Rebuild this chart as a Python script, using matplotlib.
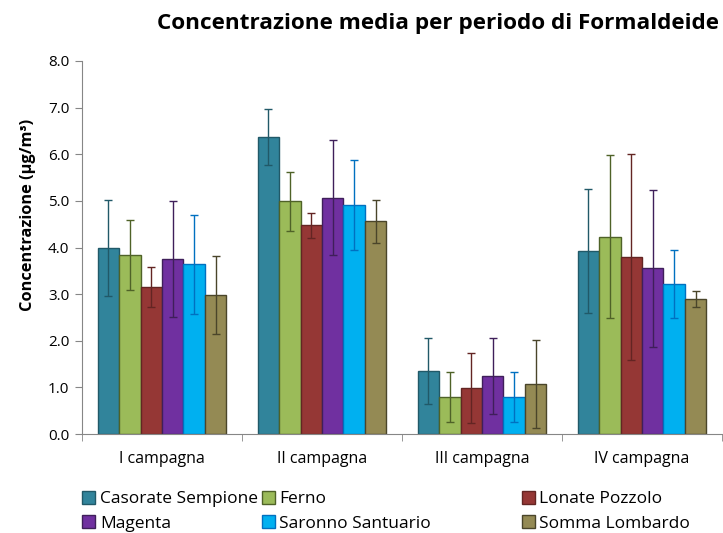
import matplotlib
matplotlib.use("Agg")
import matplotlib.pyplot as plt
import matplotlib.patches as mpatches
import numpy as np

plt.rcParams['font.family'] = ['Open Sans', 'DejaVu Sans']

campagne = ['I campagna', 'II campagna', 'III campagna', 'IV campagna']
siti = ['Casorate Sempione', 'Ferno', 'Lonate Pozzolo',
        'Magenta', 'Saronno Santuario', 'Somma Lombardo']

casorate = [3.98, 6.36, 1.35, 3.92]
ferno = [3.83, 4.99, 0.79, 4.23]
lonate = [3.15, 4.48, 0.99, 3.80]
magenta = [3.75, 5.07, 1.24, 3.55]
saronno = [3.64, 4.91, 0.79, 3.21]
somma = [2.98, 4.56, 1.07, 2.89]

err_casorate = [1.03, 0.60, 0.70, 1.33]
err_ferno = [0.75, 0.63, 0.54, 1.75]
err_lonate = [0.43, 0.27, 0.75, 2.21]
err_magenta = [1.24, 1.24, 0.81, 1.68]
err_saronno = [1.06, 0.96, 0.53, 0.73]
err_somma = [0.84, 0.46, 0.94, 0.17]

valori = [casorate, ferno, lonate, magenta, saronno, somma]
errori = [err_casorate, err_ferno, err_lonate, err_magenta, err_saronno, err_somma]
colori = ['#31849B', '#9BBB59', '#953735', '#7030A0', '#00B0F0', '#948A54']
bordi = ['#215968', '#4F6228', '#632523', '#3F1F5A', '#0070C0', '#4A452A']

fig = plt.figure(figsize=(7.23, 5.33), dpi=100)
ax = fig.add_axes([82/723, 1-434/533, 640/723, (434-61)/533])

x = np.arange(len(campagne))
w = 0.806 / 6
for i in range(6):
    pos = x - 0.403 + w/2 + i*w
    ax.bar(pos, valori[i], width=w, color=colori[i], edgecolor=bordi[i],
           linewidth=1, label=siti[i], zorder=2)
    ax.errorbar(pos, valori[i], yerr=errori[i], fmt='none', ecolor=bordi[i],
                elinewidth=1, capsize=3, capthick=1, zorder=3)

ax.set_xlim(-0.5, 3.5)
ax.set_ylim(0, 8)
ax.set_yticks(np.arange(0, 8.1, 1))
ax.set_yticklabels(['%.1f' % v for v in np.arange(0, 8.1, 1)], fontsize=11)
ax.set_xticks(x)
ax.set_xticklabels(campagne, fontsize=11.5)
ax.set_xticks(np.arange(-0.5, 3.6, 1), minor=True)
ax.tick_params(axis='x', which='major', length=0, pad=12)
ax.tick_params(axis='x', which='minor', length=5, color='#868686', direction='out')
ax.tick_params(axis='y', length=5, color='#868686', direction='out', pad=4)
for s in ['top', 'right']:
    ax.spines[s].set_visible(False)
for s in ['left', 'bottom']:
    ax.spines[s].set_color('#868686')

ax.set_ylabel('Concentrazione (µg/m³)', fontsize=11.8, fontweight='bold')
ax.yaxis.set_label_coords(-0.072, 0.587)
fig.text(0.995, 0.955, 'Concentrazione media per periodo di Formaldeide',
         ha='right', va='center', fontsize=16.2, fontweight='bold')

# legend in three columns, placed like the original
colonne_x = [0.114, 0.362, 0.722]
for c in range(3):
    handles = [mpatches.Patch(facecolor=colori[k], edgecolor=bordi[k], label=siti[k])
               for k in (c, c + 3)]
    leg = fig.legend(handles=handles, loc='upper left',
                     bbox_to_anchor=(colonne_x[c], 0.079), frameon=False,
                     fontsize=12.5, handlelength=0.75, handleheight=0.75,
                     handletextpad=0.25, labelspacing=0.45, borderaxespad=0,
                     borderpad=0)

fig.savefig('out.png', dpi=100)
